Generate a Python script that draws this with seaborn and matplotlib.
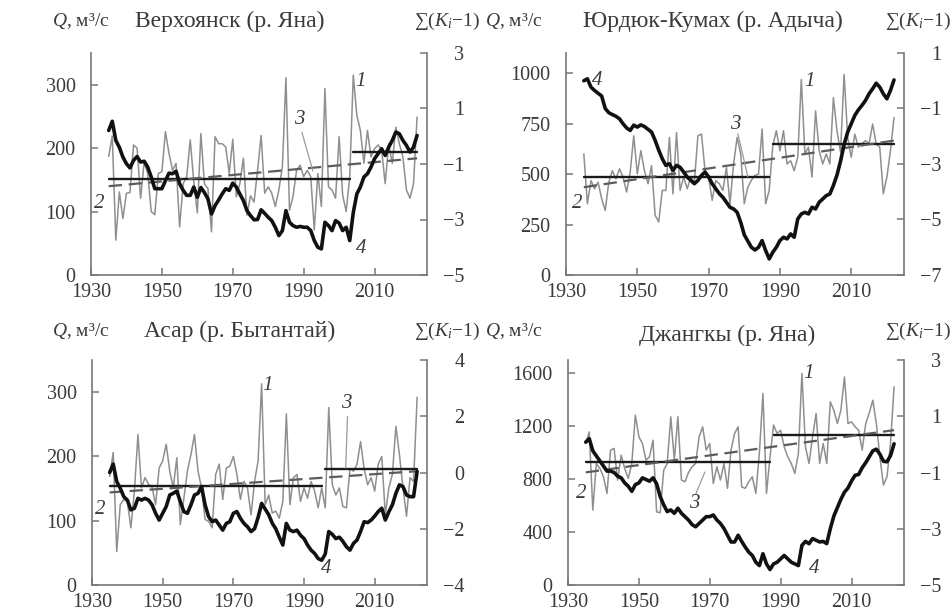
import numpy as np
import pandas as pd
import seaborn as sns
import matplotlib
matplotlib.use("Agg")
import matplotlib.pyplot as plt

sns.set_style("ticks")
plt.rcParams['font.family'] = ['Liberation Serif', 'DejaVu Serif']
plt.rcParams['mathtext.fontset'] = 'custom'
plt.rcParams['mathtext.rm'] = 'Liberation Serif'
plt.rcParams['mathtext.it'] = 'Liberation Serif:italic'

years = list(range(1935, 2023))

titles = ["Верхоянск (р. Яна)", "Юрдюк-Кумах (р. Адыча)", "Асар (р. Бытантай)", "Джангкы (р. Яна)"]
xticks = [1930, 1950, 1970, 1990, 2010]

# Panel 1: Верхоянск
q1 = [187, 219, 55, 131, 89, 129, 130, 205, 200, 121,
      178, 160, 100, 95, 160, 163, 226, 192, 165, 176,
      76, 144, 155, 213, 147, 98, 223, 144, 136, 68,
      218, 207, 207, 202, 160, 214, 123, 144, 184, 94,
      125, 115, 165, 220, 129, 139, 129, 108, 134, 171,
      311, 102, 124, 165, 173, 155, 165, 155, 71, 160,
      108, 294, 139, 134, 121, 218, 126, 100, 155, 315,
      252, 228, 176, 228, 186, 199, 205, 197, 144, 207,
      176, 233, 207, 186, 134, 121, 144, 249]
c1 = [0.21, 0.54, -0.15, -0.40, -0.75, -0.99, -1.14, -0.87, -0.73, -0.93,
      -0.90, -1.11, -1.47, -1.89, -1.89, -1.89, -1.60, -1.33, -1.35, -1.26,
      -1.71, -1.95, -2.13, -2.13, -1.83, -2.20, -1.85, -2.03, -2.26, -2.80,
      -2.50, -2.30, -2.08, -1.89, -1.95, -1.69, -1.83, -2.08, -2.32, -2.68,
      -2.86, -3.01, -3.00, -2.65, -2.78, -2.92, -3.04, -3.28, -3.58, -3.40,
      -2.68, -3.10, -3.22, -3.28, -3.25, -3.28, -3.28, -3.40, -3.76, -4.00,
      -4.06, -3.10, -3.22, -3.40, -3.04, -3.13, -3.40, -3.28, -3.76, -2.75,
      -2.08, -1.83, -1.47, -1.35, -1.11, -0.81, -0.63, -0.45, -0.69, -0.39,
      -0.15, 0.15, 0.09, -0.15, -0.33, -0.57, -0.39, 0.03]
seg1 = [(1935, 2003, 152), (2004, 2022, 194)]
trend1 = [140, 184]

# Panel 2: Юрдюк-Кумах
q2 = [600, 353, 468, 427, 460, 378, 320, 460, 517, 476,
      526, 485, 411, 509, 690, 501, 616, 517, 452, 542,
      296, 263, 419, 419, 682, 402, 706, 419, 485, 427,
      485, 460, 690, 698, 517, 485, 370, 468, 452, 419,
      534, 353, 550, 682, 600, 353, 435, 470, 493, 500,
      723, 353, 420, 640, 715, 616, 715, 550, 566, 517,
      583, 969, 600, 633, 485, 813, 616, 550, 600, 550,
      879, 715, 608, 994, 682, 583, 698, 633, 650, 666,
      650, 748, 650, 633, 403, 485, 616, 780]
c2 = [0.0, 0.07, -0.23, -0.35, -0.45, -0.55, -1.0, -1.15, -1.22, -1.28,
      -1.37, -1.55, -1.70, -1.79, -1.60, -1.67, -1.59, -1.65, -1.75, -1.85,
      -2.15, -2.50, -2.81, -3.05, -2.99, -3.23, -3.05, -3.12, -3.29, -3.47,
      -3.59, -3.71, -3.59, -3.41, -3.29, -3.47, -3.71, -3.89, -4.07, -4.20,
      -4.38, -4.56, -4.62, -4.74, -5.10, -5.55, -5.78, -6.0, -6.10, -6.0,
      -5.76, -6.12, -6.42, -6.18, -6.0, -5.76, -5.64, -5.70, -5.52, -5.64,
      -4.98, -4.80, -4.74, -4.80, -4.56, -4.62, -4.38, -4.26, -4.14, -4.08,
      -3.77, -3.40, -2.90, -2.30, -1.85, -1.55, -1.25, -1.05, -0.89, -0.71,
      -0.47, -0.29, -0.09, -0.23, -0.47, -0.65, -0.35, 0.03]
seg2 = [(1935, 1987, 487), (1988, 2022, 651)]
trend2 = [435, 666]

# Panel 3: Асар
q3 = [169, 206, 52, 125, 133, 130, 89, 146, 234, 151,
      167, 157, 152, 125, 182, 193, 219, 177, 151, 198,
      94, 135, 177, 203, 234, 177, 151, 102, 99, 89,
      172, 188, 133, 182, 185, 200, 172, 133, 161, 151,
      109, 161, 193, 313, 125, 140, 112, 115, 104, 130,
      266, 125, 167, 172, 130, 151, 135, 161, 146, 120,
      151, 120, 276, 156, 140, 151, 122, 120, 181, 177,
      188, 223, 181, 156, 167, 146, 188, 200, 109, 151,
      172, 247, 203, 151, 107, 167, 161, 292]
c3 = [0.0, 0.30, -0.32, -0.56, -0.86, -0.98, -1.33, -1.27, -0.92, -0.98,
      -0.92, -0.98, -1.15, -1.45, -1.69, -1.45, -1.21, -0.80, -0.74, -0.66,
      -1.04, -1.39, -1.45, -1.15, -0.80, -0.74, -0.50, -1.15, -1.57, -1.75,
      -1.69, -1.87, -2.05, -1.81, -1.75, -1.45, -1.39, -1.63, -1.81, -1.93,
      -2.10, -2.00, -1.60, -1.10, -1.30, -1.50, -1.80, -2.00, -2.30, -2.58,
      -1.81, -2.05, -2.10, -2.05, -2.23, -2.35, -2.58, -2.76, -2.88, -3.06,
      -3.12, -2.90, -2.10, -2.20, -2.35, -2.30, -2.45, -2.64, -2.76, -2.52,
      -2.40, -2.10, -1.75, -1.78, -1.69, -1.55, -1.39, -1.27, -1.69, -1.40,
      -1.15, -0.74, -0.44, -0.50, -0.80, -0.86, -0.86, 0.04]
seg3 = [(1935, 1995, 154), (1996, 2022, 180)]
trend3 = [144, 177]

# Panel 4: Джангкы
q4 = [1069, 1157, 566, 918, 880, 818, 692, 1019, 1032, 793,
      981, 880, 805, 918, 1283, 1120, 1069, 943, 969, 1094,
      553, 546, 868, 918, 1271, 943, 1271, 793, 780, 850,
      893, 918, 1120, 1195, 1019, 1069, 767, 893, 793, 918,
      730, 1019, 1145, 1195, 742, 730, 780, 818, 692, 1000,
      1447, 692, 969, 1208, 1145, 1170, 1044, 969, 918, 843,
      994, 1598, 1044, 918, 1120, 1296, 918, 1069, 918, 1384,
      1321, 1220, 1321, 1572, 1220, 1233, 1195, 1170, 1019, 1220,
      1300, 1396, 1220, 969, 755, 818, 1069, 1497]
c4 = [0.08, 0.2, -0.23, -0.41, -0.59, -0.77, -0.95, -0.95, -1.0, -1.13,
      -1.19, -1.37, -1.49, -1.67, -1.43, -1.37, -1.19, -1.25, -1.31, -1.19,
      -1.40, -1.85, -2.15, -2.39, -2.33, -2.45, -2.27, -2.45, -2.57, -2.69,
      -2.85, -2.93, -2.81, -2.69, -2.57, -2.57, -2.51, -2.69, -2.81, -2.99,
      -3.23, -3.47, -3.47, -3.23, -3.45, -3.65, -3.83, -3.95, -4.19, -4.31,
      -3.89, -4.25, -4.45, -4.25, -4.19, -4.07, -3.95, -4.07, -4.19, -4.25,
      -4.31, -3.59, -3.45, -3.53, -3.35, -3.41, -3.47, -3.45, -3.53, -3.0,
      -2.55, -2.25, -1.95, -1.70, -1.55, -1.30, -1.10, -1.07, -0.83, -0.65,
      -0.44, -0.23, -0.17, -0.35, -0.60, -0.62, -0.40, 0.02]
seg4 = [(1935, 1987, 926), (1988, 2022, 1137)]
trend4 = [851, 1170]

left_ticks = [[0, 100, 200, 300], [0, 250, 500, 750, 1000], [0, 100, 200, 300], [0, 400, 800, 1200, 1600]]
left_lims = [(0, 350), (0, 1100), (0, 350), (0, 1700)]
right_ticks = [[-5, -3, -1, 1, 3], [-7, -5, -3, -1, 1], [-4, -2, 0, 2, 4], [-5, -3, -1, 1, 3]]

# number labels (text, x, y in Q units)
labels = [
    [("1", 2006.0, 305), ("2", 1932.3, 113), ("3", 1988.9, 245), ("4", 2006.3, 42)],
    [("1", 1998.2, 960), ("2", 1933.2, 355), ("3", 1977.4, 745), ("4", 1938.8, 965)],
    [("1", 1979.6, 310), ("2", 1932.2, 117), ("3", 2002.0, 283), ("4", 1996.2, 25)],
    [("1", 1997.9, 1600), ("2", 1933.8, 690), ("3", 1965.5, 615), ("4", 1999.6, 125)],
]
leaders = [
    ((1989.5, 225), (1992.6, 164)),
    ((1978.2, 700), (1981.0, 487)),
    ((2002.3, 262), (2001.8, 182)),
    ((1966.1, 690), (1968.6, 853)),
]

W, H = 952, 616
fig = plt.figure(figsize=(W / 100, H / 100), dpi=100)

# axes rectangles in pixels: left, top, right, bottom
rects = [(91, 53, 427, 275), (566, 53, 904, 275), (92, 360, 427, 585), (568, 360, 904, 585)]
heads = [
    dict(q=(52, 21), t=(230, 21), s=(480, 21)),
    dict(q=(485, 21), t=(713, 21), s=(951, 21)),
    dict(q=(52, 331), t=(240, 331), s=(480, 331)),
    dict(q=(485, 331), t=(727, 335), s=(951, 331)),
]

Qs = [q1, q2, q3, q4]
Cs = [c1, c2, c3, c4]
Segs = [seg1, seg2, seg3, seg4]
Trends = [trend1, trend2, trend3, trend4]

spine_col = '#777777'
text_col = '#3a3a3a'
fs_tick = 14.5

def fx(x):
    return x / W

def fy(y):
    return 1 - y / H

for i in range(4):
    l, t, r, b = rects[i]
    ax = fig.add_axes([fx(l), fy(b), (r - l) / W, (b - t) / H])
    ax2 = ax.twinx()
    df = pd.DataFrame({"year": years, "Q": Qs[i], "C": Cs[i]})

    sns.lineplot(data=df, x="year", y="Q", ax=ax, color='#8f8f8f', lw=1.1)
    for (a, e, v) in Segs[i]:
        sns.lineplot(x=[a, e], y=[v, v], ax=ax, color='#1a1a1a', lw=1.7)
    ax.plot([1935, 2022], Trends[i], color='#5c5c5c', lw=1.6, dashes=(6, 3))
    sns.lineplot(data=df, x="year", y="C", ax=ax2, color='#111111', lw=2.6)

    ax.set_xlim(1930, 2024.8)
    ax.set_ylim(*left_lims[i])
    rt = right_ticks[i]
    ax2.set_ylim(rt[0], rt[-1])
    ax.set_xticks(xticks)
    ax.set_yticks(left_ticks[i])
    ax2.set_yticks(rt)
    ax.set_xlabel("")
    ax.set_ylabel("")
    ax2.set_ylabel("")

    for a_ in (ax, ax2):
        a_.spines['top'].set_visible(False)
        for s in a_.spines.values():
            s.set_color(spine_col)
            s.set_linewidth(1.2)
    ax.spines['right'].set_visible(False)
    ax2.spines['left'].set_visible(False)
    ax2.spines['bottom'].set_visible(False)

    ax.tick_params(axis='both', direction='in', length=5, width=1.1, color=spine_col,
                   labelsize=fs_tick, labelcolor=text_col)
    ax.tick_params(axis='y', pad=11)
    ax.tick_params(axis='x', pad=6)
    ax2.tick_params(axis='y', direction='in', length=5, width=1.1, color=spine_col,
                    labelsize=fs_tick, labelcolor=text_col, pad=27)
    for lab in ax2.get_yticklabels():
        lab.set_horizontalalignment('right')

    for (txt, xx, yy) in labels[i]:
        ax.text(xx, yy, txt, fontsize=15, fontstyle='italic', color=text_col,
                ha='center', va='center')
    (x0, y0), (x1, y1) = leaders[i]
    ax.plot([x0, x1], [y0, y1], color='#9a9a9a', lw=0.9)

    h = heads[i]
    fig.text(fx(h['q'][0]), fy(h['q'][1]), r"$Q$, м³/с", fontsize=14, color=text_col,
             ha='left', va='center')
    fig.text(fx(h['t'][0]), fy(h['t'][1]), titles[i], fontsize=17, color=text_col,
             ha='center', va='center')
    fig.text(fx(h['s'][0]), fy(h['s'][1]), r"∑$(K_i{-}1)$", fontsize=14, color=text_col,
             ha='right', va='center')

fig.savefig("out.png", dpi=100)
